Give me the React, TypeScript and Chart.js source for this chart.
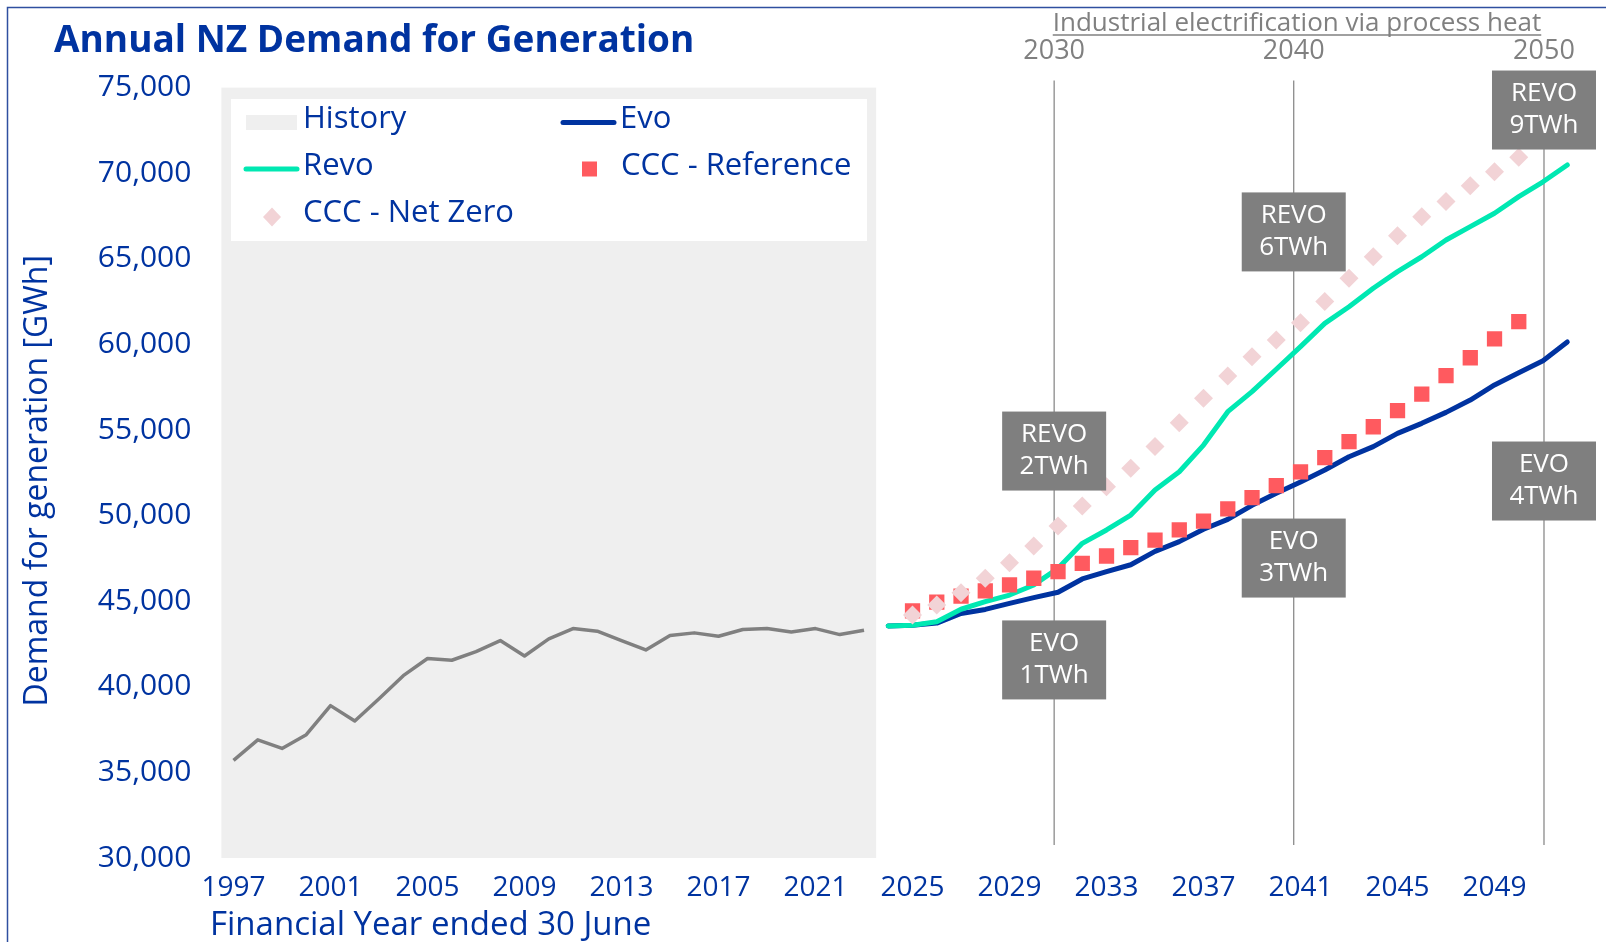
import React, { useEffect, useRef } from 'react';
import { Chart, registerables } from 'chart.js';

Chart.register(...registerables);

// ---------- data ----------
const categoryYears = [
  '1997', '1998', '1999', '2000', '2001', '2002', '2003', '2004', '2005', '2006',
  '2007', '2008', '2009', '2010', '2011', '2012', '2013', '2014', '2015', '2016',
  '2017', '2018', '2019', '2020', '2021', '2022', '2023', '2024', '2025', '2026',
  '2027', '2028', '2029', '2030', '2031', '2032', '2033', '2034', '2035', '2036',
  '2037', '2038', '2039', '2040', '2041', '2042', '2043', '2044', '2045', '2046',
  '2047', '2048', '2049', '2050', '2051', '2052',
];

const historyYears = [
  '1997', '1998', '1999', '2000', '2001', '2002', '2003', '2004', '2005', '2006',
  '2007', '2008', '2009', '2010', '2011', '2012', '2013', '2014', '2015', '2016',
  '2017', '2018', '2019', '2020', '2021', '2022', '2023',
];
const historyValues = [
  35700, 36900, 36400, 37200, 38900, 38000, 39300, 40650, 41650, 41550,
  42050, 42700, 41800, 42800, 43400, 43250, 42700, 42150, 43000, 43150,
  42950, 43350, 43400, 43200, 43400, 43050, 43300,
];

const projectionYears = [
  '2024', '2025', '2026', '2027', '2028', '2029', '2030', '2031', '2032', '2033',
  '2034', '2035', '2036', '2037', '2038', '2039', '2040', '2041', '2042', '2043',
  '2044', '2045', '2046', '2047', '2048', '2049', '2050', '2051', '2052',
];
const evoValues = [
  43550, 43600, 43720, 44280, 44520, 44870, 45210, 45520, 46300, 46730,
  47130, 47910, 48480, 49200, 49780, 50600, 51300, 51960, 52660, 53440,
  54030, 54800, 55390, 56030, 56750, 57630, 58350, 59050, 60140,
];
const revoValues = [
  43550, 43600, 43800, 44530, 44970, 45360, 45950, 46920, 48380, 49160,
  50030, 51500, 52560, 54120, 56070, 57240, 58550, 59870, 61230, 62200,
  63280, 64250, 65120, 66100, 66880, 67660, 68630, 69500, 70480,
];

const cccYears = [
  '2025', '2026', '2027', '2028', '2029', '2030', '2031', '2032', '2033', '2034',
  '2035', '2036', '2037', '2038', '2039', '2040', '2041', '2042', '2043', '2044',
  '2045', '2046', '2047', '2048', '2049', '2050',
];
const cccReferenceValues = [
  44430, 44950, 45300, 45600, 45950, 46340, 46730, 47210, 47640, 48130,
  48570, 49160, 49680, 50390, 51050, 51750, 52560, 53380, 54320, 55190,
  56130, 57100, 58170, 59220, 60320, 61330,
];
const cccNetZeroValues = [
  44190, 44780, 45500, 46340, 47250, 48220, 49390, 50560, 51690, 52760,
  54030, 55430, 56850, 58150, 59280, 60260, 61270, 62500, 63860, 65120,
  66350, 67460, 68340, 69270, 70090, 70930,
];

const yTicks = [30000, 35000, 40000, 45000, 50000, 55000, 60000, 65000, 70000, 75000];

// secondary "process heat" markers (fractional year position on the axis)
const markerLabels = ['2030', '2040', '2050'];
const markerYears = [2030.84, 2040.72, 2051.04];

// annotation callouts: marker index, value at box centre, text
const calloutMarker = [0, 0, 1, 1, 2, 2];
const calloutValues = [53770, 41570, 66570, 47520, 73690, 52020];
const calloutTexts = [
  ['REVO', '2TWh'], ['EVO', '1TWh'],
  ['REVO', '6TWh'], ['EVO', '3TWh'],
  ['REVO', '9TWh'], ['EVO', '4TWh'],
];

const titleText = 'Annual NZ Demand for Generation';
const yTitleText = 'Demand for generation [GWh]';
const xTitleText = 'Financial Year ended 30 June';
const topNoteText = 'Industrial electrification via process heat';

// ---------- styles ----------
const FONT = "'Open Sans', sans-serif";
const BLUE = '#0033A0';
const TEAL = '#00E8B2';
const RED = '#FF5A5F';
const PINK = '#F2D3D6';
const GREY = '#808080';
const SHADE = '#EFEFEF';
const BOX = '#7F7F7F';

const pairs = (xs: string[], ys: number[]) => xs.map((x, i) => ({ x, y: ys[i] }));

export default function App() {
  const ref = useRef<HTMLCanvasElement>(null);

  useEffect(() => {
    const canvas = ref.current;
    if (!canvas) return;

    const decor = {
      id: 'decor',
      beforeDatasetsDraw(chart: any) {
        const { ctx, chartArea } = chart;
        const xs = chart.scales.x;
        const i0 = categoryYears.indexOf(historyYears[0]);
        const i1 = categoryYears.indexOf(historyYears[historyYears.length - 1]);
        const x0 = xs.getPixelForValue(i0 - 0.5);
        const x1 = xs.getPixelForValue(i1 + 0.5);
        ctx.save();
        ctx.fillStyle = SHADE;
        ctx.fillRect(x0, chartArea.top, x1 - x0, chartArea.bottom - chartArea.top);
        ctx.strokeStyle = GREY;
        ctx.lineWidth = 1.2;
        markerYears.forEach((yr) => {
          const px = xs.getPixelForValue(yr - Number(categoryYears[0]));
          ctx.beginPath();
          ctx.moveTo(px, chartArea.top - 7);
          ctx.lineTo(px, chartArea.bottom - 13);
          ctx.stroke();
        });
        ctx.restore();
      },
      afterDatasetsDraw(chart: any) {
        const { ctx } = chart;
        const xs = chart.scales.x;
        const ys = chart.scales.y;
        ctx.save();
        calloutValues.forEach((v, k) => {
          const px = xs.getPixelForValue(markerYears[calloutMarker[k]] - Number(categoryYears[0]));
          const py = ys.getPixelForValue(v);
          const w = 104;
          const h = 79;
          ctx.fillStyle = BOX;
          ctx.fillRect(px - w / 2, py - h / 2, w, h);
          ctx.fillStyle = '#FFFFFF';
          ctx.font = `26px ${FONT}`;
          ctx.textAlign = 'center';
          ctx.textBaseline = 'middle';
          ctx.fillText(calloutTexts[k][0], px, py - 16);
          ctx.fillText(calloutTexts[k][1], px, py + 16);
        });
        ctx.restore();
      },
      afterDraw(chart: any) {
        const { ctx, chartArea } = chart;
        const xs = chart.scales.x;
        ctx.save();

        // frame
        ctx.strokeStyle = '#2F4FA0';
        ctx.lineWidth = 1.5;
        ctx.beginPath();
        ctx.moveTo(7.5, 942);
        ctx.lineTo(7.5, 7.5);
        ctx.lineTo(1606, 7.5);
        ctx.stroke();

        // title
        ctx.fillStyle = BLUE;
        ctx.font = `700 37px ${FONT}`;
        ctx.textAlign = 'left';
        ctx.textBaseline = 'alphabetic';
        ctx.fillText(titleText, 54, 52);

        // y title
        ctx.save();
        ctx.translate(47, (chartArea.top + chartArea.bottom) / 2 + 8);
        ctx.rotate(-Math.PI / 2);
        ctx.font = `32px ${FONT}`;
        ctx.textAlign = 'center';
        ctx.fillText(yTitleText, 0, 0);
        ctx.restore();

        // x title
        ctx.font = `33px ${FONT}`;
        ctx.textAlign = 'left';
        ctx.fillText(xTitleText, 210, 935);

        // top note + marker labels
        ctx.fillStyle = GREY;
        ctx.font = `26px ${FONT}`;
        ctx.textAlign = 'center';
        ctx.fillText(topNoteText, 1297, 31);
        const tw = ctx.measureText(topNoteText).width;
        ctx.strokeStyle = GREY;
        ctx.lineWidth = 1.3;
        ctx.beginPath();
        ctx.moveTo(1297 - tw / 2, 35);
        ctx.lineTo(1297 + tw / 2, 35);
        ctx.stroke();
        ctx.font = `27px ${FONT}`;
        markerYears.forEach((yr, k) => {
          const px = xs.getPixelForValue(yr - Number(categoryYears[0]));
          ctx.fillText(markerLabels[k], px, 59);
        });

        // legend
        ctx.fillStyle = '#FFFFFF';
        ctx.fillRect(231, 99, 636, 142);
        const labelOf = (i: number) => chart.data.datasets[i].label;
        ctx.font = `31px ${FONT}`;
        ctx.textAlign = 'left';
        ctx.fillStyle = BLUE;
        ctx.fillText('History', 303, 128);
        ctx.fillText(labelOf(3), 620, 128);
        ctx.fillText(labelOf(2), 303, 175);
        ctx.fillText(labelOf(1), 621, 175);
        ctx.fillText(labelOf(0), 303, 222);
        // swatches
        ctx.fillStyle = SHADE;
        ctx.fillRect(246, 115, 51, 15);
        ctx.lineCap = 'round';
        ctx.lineWidth = 5;
        ctx.strokeStyle = BLUE;
        ctx.beginPath();
        ctx.moveTo(563, 122.5);
        ctx.lineTo(614, 122.5);
        ctx.stroke();
        ctx.strokeStyle = TEAL;
        ctx.beginPath();
        ctx.moveTo(246, 169);
        ctx.lineTo(297, 169);
        ctx.stroke();
        ctx.fillStyle = RED;
        ctx.fillRect(582, 161.5, 15, 15);
        ctx.fillStyle = PINK;
        ctx.beginPath();
        ctx.moveTo(272, 207.5);
        ctx.lineTo(281, 217);
        ctx.lineTo(272, 226.5);
        ctx.lineTo(263, 217);
        ctx.closePath();
        ctx.fill();

        ctx.restore();
      },
    };

    const chart = new Chart(canvas, {
      type: 'line',
      data: {
        labels: categoryYears,
        datasets: [
          {
            label: 'CCC - Net Zero',
            data: pairs(cccYears, cccNetZeroValues),
            showLine: false,
            pointStyle: 'rectRot',
            pointRadius: 9.5,
            pointBackgroundColor: PINK,
            pointBorderWidth: 0,
            backgroundColor: PINK,
            borderColor: PINK,
          },
          {
            label: 'CCC - Reference',
            data: pairs(cccYears, cccReferenceValues),
            showLine: false,
            pointStyle: 'rect',
            pointRadius: 10.8,
            pointBackgroundColor: RED,
            pointBorderWidth: 0,
            backgroundColor: RED,
            borderColor: RED,
          },
          {
            label: 'Revo',
            data: pairs(projectionYears, revoValues),
            borderColor: TEAL,
            backgroundColor: TEAL,
            borderWidth: 5,
            pointRadius: 0,
            tension: 0,
            borderCapStyle: 'round',
            borderJoinStyle: 'round',
          },
          {
            label: 'Evo',
            data: pairs(projectionYears, evoValues),
            borderColor: BLUE,
            backgroundColor: BLUE,
            borderWidth: 5,
            pointRadius: 0,
            tension: 0,
            borderCapStyle: 'round',
            borderJoinStyle: 'round',
          },
          {
            label: 'History',
            data: pairs(historyYears, historyValues),
            borderColor: GREY,
            backgroundColor: GREY,
            borderWidth: 3.5,
            pointRadius: 0,
            tension: 0,
            borderJoinStyle: 'round',
          },
        ],
      },
      options: {
        responsive: false,
        animation: false,
        devicePixelRatio: 1,
        layout: { padding: { left: 0, right: 26.6, top: 87.6, bottom: 0 } },
        plugins: {
          legend: { display: false },
          tooltip: { enabled: false },
          title: { display: false },
        },
        scales: {
          x: {
            type: 'category',
            offset: true,
            grid: { display: false, drawTicks: false },
            border: { display: false },
            ticks: {
              autoSkip: false,
              maxRotation: 0,
              minRotation: 0,
              padding: 13,
              color: BLUE,
              font: { family: FONT, size: 28 },
              callback: function (this: any, val: any, index: number) {
                return index % 4 === 0 ? this.getLabelForValue(val) : '';
              },
            },
            afterFit: (s: any) => {
              s.height = 84;
            },
          },
          y: {
            min: yTicks[0],
            max: yTicks[yTicks.length - 1],
            grid: { display: false, drawTicks: false },
            border: { display: false },
            afterBuildTicks: (s: any) => {
              s.ticks = yTicks.map((v) => ({ value: v }));
            },
            ticks: {
              padding: 30,
              color: BLUE,
              font: { family: FONT, size: 30 },
              callback: (v: any) => Number(v).toLocaleString('en-US'),
            },
            afterFit: (s: any) => {
              s.width = 221.4;
            },
          },
        },
      },
      plugins: [decor],
    });

    return () => chart.destroy();
  }, []);

  return (
    <div style={{ position: 'fixed', left: 0, top: 0, width: 1606, height: 942, background: '#FFFFFF' }}>
      <canvas ref={ref} width={1606} height={942} style={{ display: 'block', width: 1606, height: 942 }} />
    </div>
  );
}
